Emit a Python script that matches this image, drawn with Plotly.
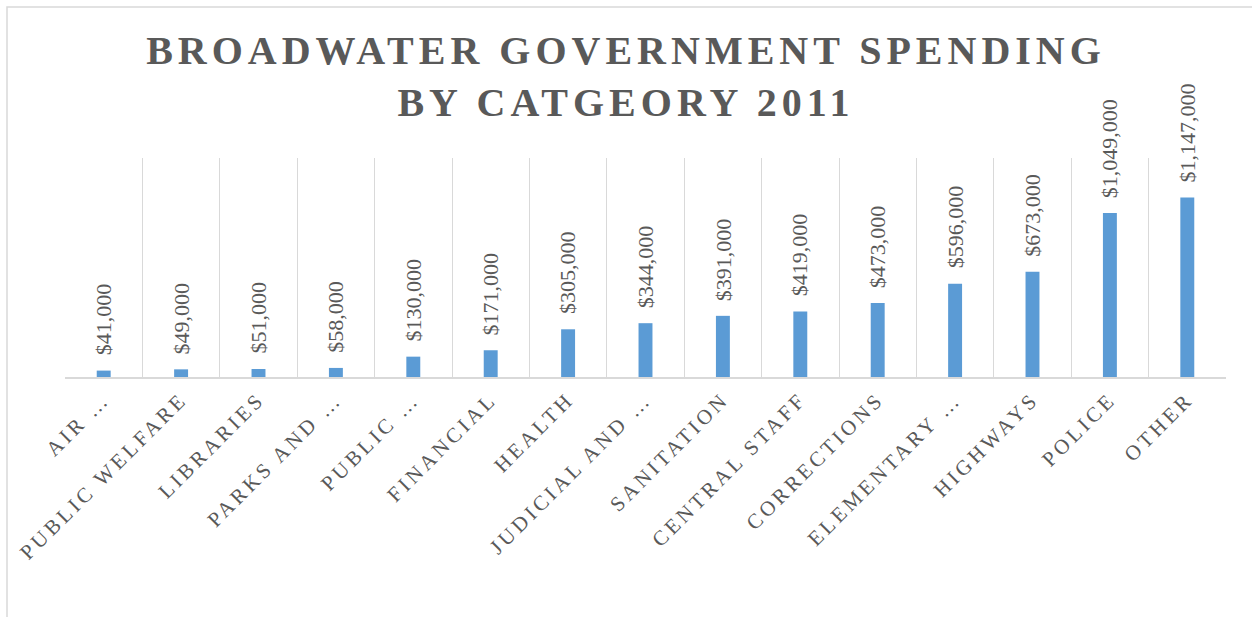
import plotly.graph_objects as go

categories = ["AIR …", "PUBLIC WELFARE", "LIBRARIES", "PARKS AND …", "PUBLIC …",
              "FINANCIAL", "HEALTH", "JUDICIAL AND …", "SANITATION", "CENTRAL STAFF",
              "CORRECTIONS", "ELEMENTARY …", "HIGHWAYS", "POLICE", "OTHER"]
spending = [41000, 49000, 51000, 58000, 130000, 171000, 305000, 344000, 391000,
            419000, 473000, 596000, 673000, 1049000, 1147000]
labels = ["${:,.0f}".format(v) for v in spending]
title_text = "BROADWATER GOVERNMENT SPENDING<br>BY CATGEORY 2011"

SERIF = "Liberation Serif, Times New Roman, serif"
W, H = 1252, 617
L, R, T, B = 65, 26, 158, 240
pw, ph = W - L - R, H - T - B

fig = go.Figure()
fig.add_trace(go.Bar(
    x=categories, y=spending,
    marker=dict(color="#5B9BD5", line=dict(width=0)),
    hoverinfo="x+y",
))

annotations = []
for c, v, t in zip(categories, spending, labels):
    annotations.append(dict(
        x=c, y=v, xref="x", yref="y", text=t, showarrow=False,
        textangle=-90, xanchor="center", yanchor="bottom", yshift=13,
        font=dict(family=SERIF, size=22, color="#595959"),
    ))

fig.update_layout(
    width=W, height=H,
    margin=dict(l=L, r=R, t=T, b=B, autoexpand=False),
    paper_bgcolor="white", plot_bgcolor="white",
    bargap=0.82,
    showlegend=False,
    font=dict(family=SERIF, color="#595959"),
    title=dict(
        text=title_text, x=0.5, xref="container", xanchor="center",
        y=1 - 64 / H, yref="container", yanchor="top",
        font=dict(family=SERIF, size=40, color="#595959", weight="bold"),
        pad=dict(t=0, b=0, l=0, r=0),
    ),
    xaxis=dict(
        type="category", tickson="boundaries", showgrid=True,
        gridcolor="#d9d9d9", gridwidth=1, showline=True, linecolor="#d9d9d9",
        linewidth=1.5, ticks="", tickangle=-45, automargin=False,
        tickfont=dict(family=SERIF, size=21, color="#595959"),
    ),
    yaxis=dict(
        range=[0, 1400000], showgrid=False, zeroline=False, showticklabels=False,
        showline=False, ticks="", automargin=False,
    ),
    annotations=annotations,
    shapes=[dict(
        type="rect", xref="paper", yref="paper",
        x0=(7 - L) / pw, x1=(W + 20 - L) / pw,
        y0=-(B + 20) / ph, y1=(ph + T - 7) / ph,
        line=dict(color="#d9d9d9", width=1.5), fillcolor="rgba(0,0,0,0)", layer="below",
    )],
)

post = """
document.body.style.margin = '0';
document.body.style.overflow = 'hidden';
var gd = document.getElementById('{plot_id}');
function ls(){
  gd.querySelectorAll('.gtitle').forEach(function(e){ e.style.letterSpacing = '5px'; });
  gd.querySelectorAll('.xtick text').forEach(function(e){ e.style.letterSpacing = '3.5px'; });
}
ls();
gd.on('plotly_afterplot', ls);
"""

fig.write_html("out.html", post_script=post, config={"displayModeBar": False})
